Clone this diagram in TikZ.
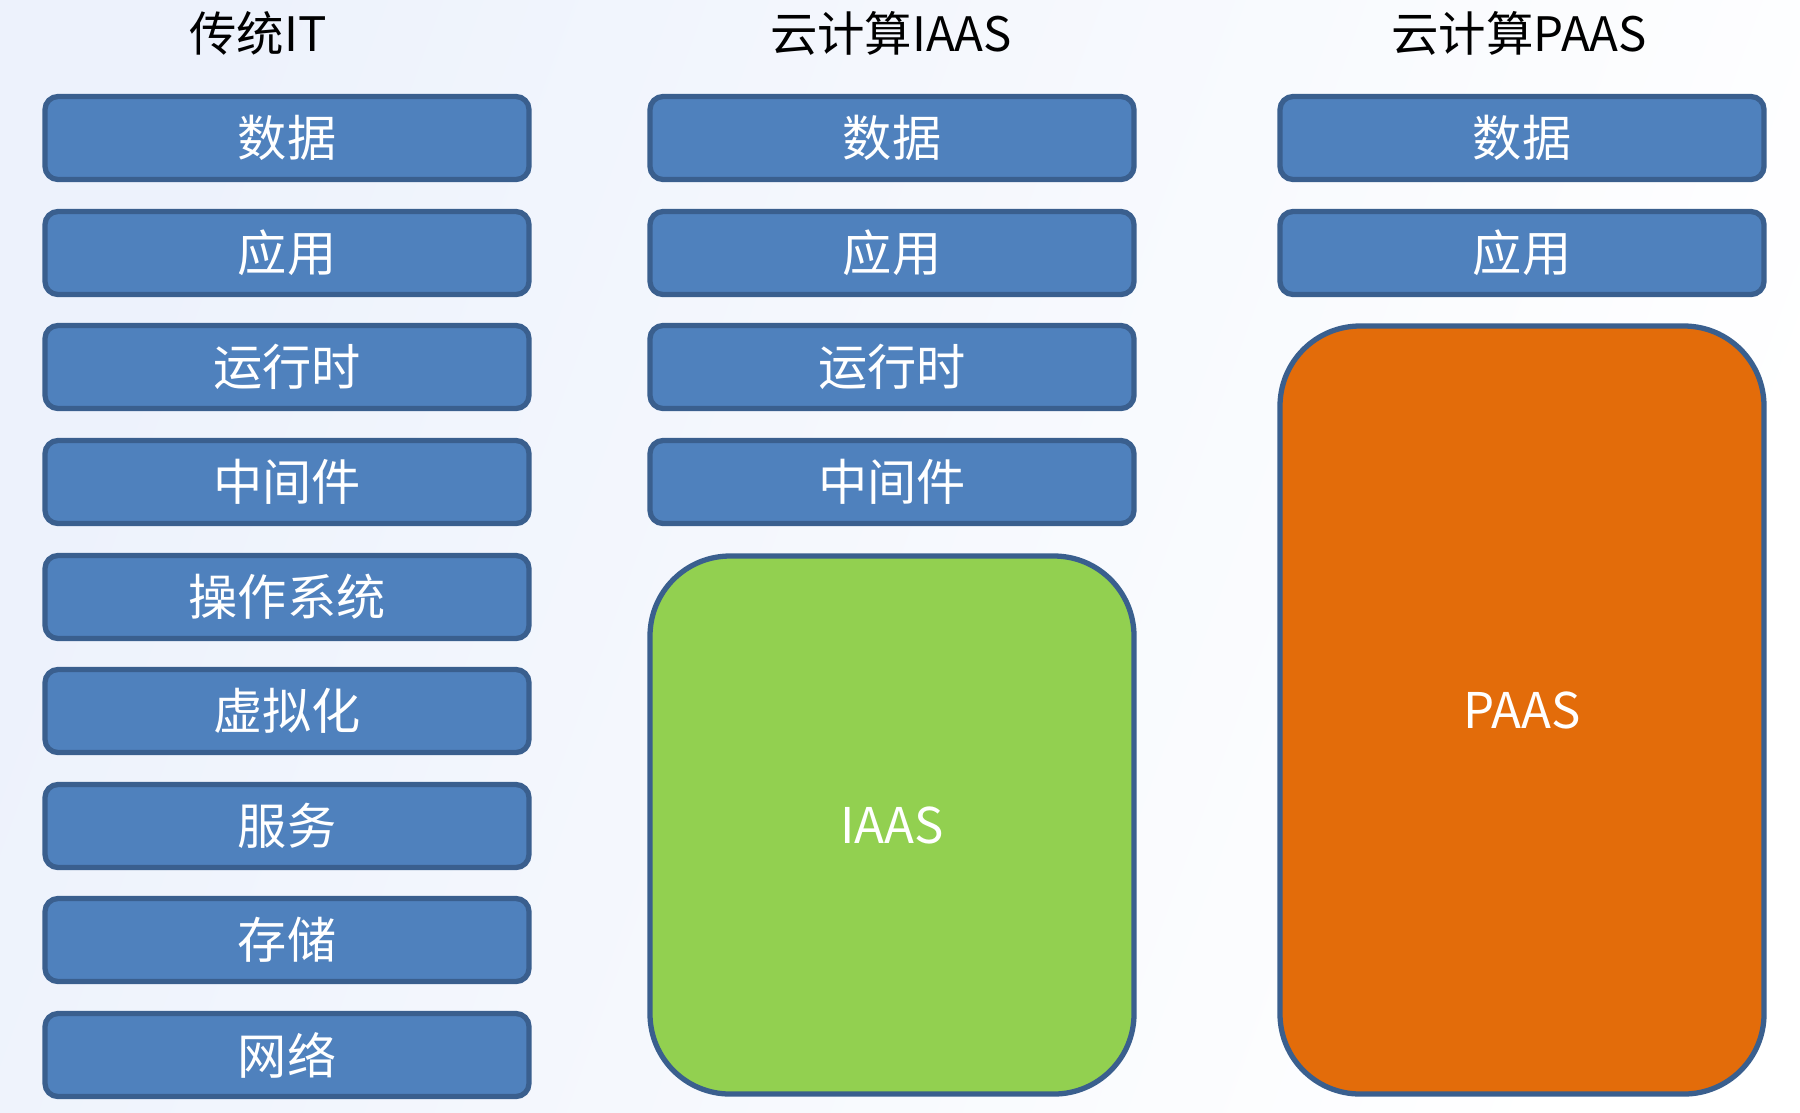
\documentclass[tikz,border=0pt]{standalone}
\usepackage{fontspec}
\setmainfont{Noto Sans CJK SC}
\definecolor{layerblue}{HTML}{4F81BD}
\definecolor{layerline}{HTML}{3A5F8E}
\definecolor{iaasgreen}{HTML}{92D050}
\definecolor{paasorange}{HTML}{E36C0A}
\definecolor{bgblue}{HTML}{EDF2FC}

\begin{document}
\begin{tikzpicture}[x=0.1mm,y=-0.1mm,
	layer/.style={draw=layerline,line width=1.5pt,fill=layerblue,rounded corners=1.3mm,minimum width=48.4mm,minimum height=8.3mm,inner sep=0pt,text=white,font=\fontsize{14}{17}\selectfont},
	block/.style={layer,rounded corners=8mm},
	title/.style={font=\fontsize{13.5}{16}\selectfont}]
			\useasboundingbox (0,0) rectangle (1800,1112);
			\shade[left color=bgblue,right color=white,shading angle=70] (0,0) rectangle (1800,1112);
			% titles
			\node[title] (t1) at (258,33) {传统IT};
			\node[title] (t2) at (891,33) {云计算IAAS};
			\node[title] (t3) at (1519,33) {云计算PAAS};
			% traditional IT
			\node[layer] (it1) at (287,138) {数据};
			\node[layer] (it2) at (287,253) {应用};
			\node[layer] (it3) at (287,367) {运行时};
			\node[layer] (it4) at (287,482) {中间件};
			\node[layer] (it5) at (287,597) {操作系统};
			\node[layer] (it6) at (287,711) {虚拟化};
			\node[layer] (it7) at (287,826) {服务};
			\node[layer] (it8) at (287,940) {存储};
			\node[layer] (it9) at (287,1055) {网络};
			% IAAS
			\node[layer] (ia1) at (892,138) {数据};
			\node[layer] (ia2) at (892,253) {应用};
			\node[layer] (ia3) at (892,367) {运行时};
			\node[layer] (ia4) at (892,482) {中间件};
			\node[block,fill=iaasgreen,minimum height=53.8mm] (iaas) at (892,825) {IAAS};
			% PAAS
			\node[layer] (pa1) at (1522,138) {数据};
			\node[layer] (pa2) at (1522,253) {应用};
			\node[block,fill=paasorange,minimum height=76.8mm] (paas) at (1522,710) {PAAS};
		\end{tikzpicture}
\end{document}
